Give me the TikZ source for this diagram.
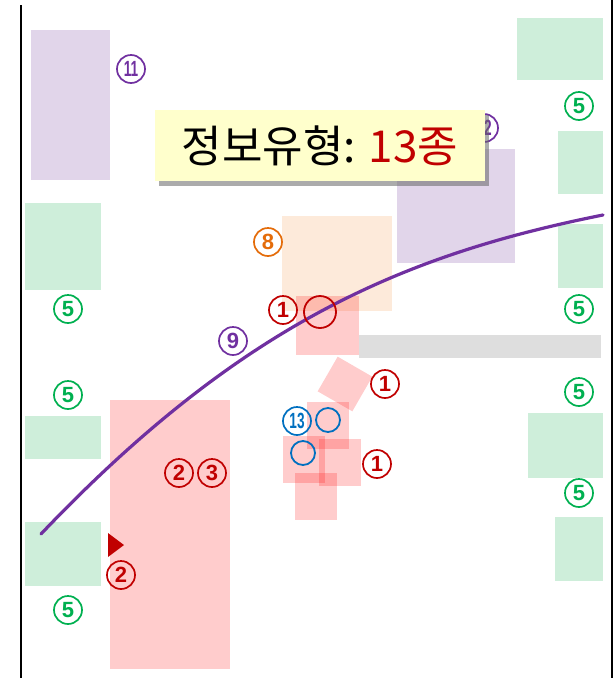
\documentclass[tikz,border=0pt]{standalone}
\usepackage{fontspec}
\usepackage{graphicx}
\setmainfont{Liberation Sans}
\newfontfamily\kr{Noto Sans CJK KR}
\usetikzlibrary{shadows}
\definecolor{cred}{RGB}{192,0,0}
\definecolor{cgreen}{RGB}{0,176,80}
\definecolor{cpurple}{RGB}{112,48,160}
\definecolor{corange}{RGB}{228,108,10}
\definecolor{cblue}{RGB}{0,112,192}
\definecolor{fgreen}{RGB}{206,238,218}
\definecolor{fpurple}{RGB}{225,213,234}
\definecolor{forange}{RGB}{253,234,218}
\definecolor{fgray}{RGB}{222,222,222}
\definecolor{fyellow}{RGB}{255,255,204}
\tikzset{
  num/.style={circle, draw=#1, text=#1, line width=1.7pt, minimum size=28pt, inner sep=0pt,
    font=\bfseries\fontsize{22}{22}\selectfont},
  greenbox/.style={fill=fgreen},
  purplebox/.style={fill=fpurple},
  orangebox/.style={fill=forange},
  graybox/.style={fill=fgray},
  pinkbox/.style={fill=red, fill opacity=0.2},
  ring/.style={circle, draw=#1, line width=1.8pt, inner sep=0pt},
  border/.style={line width=2.4pt, black},
  route/.style={line width=3.2pt, cpurple, line cap=round},
}
\begin{document}
\begin{tikzpicture}[x=1pt,y=-1pt]
\useasboundingbox (0,0) rectangle (615,678);
% frame lines
\draw[border] (21,5) -- (21,678);
\draw[border] (612,0) -- (612,678);
% purple areas
\fill[purplebox] (31,30) rectangle (110,180);
\fill[purplebox] (397,149) rectangle (515,263);
% green areas
\fill[greenbox] (517,18) rectangle (603,80);
\fill[greenbox] (558,131) rectangle (603,194);
\fill[greenbox] (558,224) rectangle (603,288);
\fill[greenbox] (25,203) rectangle (101,290);
\fill[greenbox] (25,416) rectangle (101,459);
\fill[greenbox] (25,522) rectangle (101,586);
\fill[greenbox] (528,413) rectangle (603,478);
\fill[greenbox] (555,517) rectangle (603,581);
% orange, gray
\fill[orangebox] (282,216) rectangle (392,311);
\fill[graybox] (359,335) rectangle (601,358);
% pink areas
\fill[pinkbox] (110,400) rectangle (230,669);
\fill[pinkbox] (296,296) rectangle (359,355);
\node[pinkbox, rotate=-30, minimum size=40pt, inner sep=0pt] (rot) at (345,384) {};
\fill[pinkbox] (307,402) rectangle (349,449);
\fill[pinkbox] (283,436) rectangle (325,483);
\fill[pinkbox] (319,439) rectangle (361,486);
\fill[pinkbox] (295,473) rectangle (337,520);
% triangle marker
\fill[cred] (108,533) -- (124,545) -- (108,557) -- cycle;
% route curve
\coordinate (rs) at (41,534);
\coordinate (re) at (603,215);
\draw[route] (rs) .. controls (241,324) and (403,255) .. (re);
% rings
\node[ring=cred, minimum size=32pt] (r1) at (320,312) {};
\node[ring=cblue, minimum size=24pt] (b1) at (328,420) {};
\node[ring=cblue, minimum size=24pt] (b2) at (303,453) {};
% labels
\node[num=cpurple] (n11) at (131,69) {\scalebox{0.62}[1]{11}};
\node[num=cpurple] (n12) at (484,128) {\scalebox{0.62}[1]{12}};
\node[num=cgreen] (g1) at (579,106) {5};
\node[num=cgreen] (g2) at (579,309) {5};
\node[num=cgreen] (g3) at (68,309) {5};
\node[num=cgreen] (g4) at (68,395) {5};
\node[num=cgreen] (g5) at (579,392) {5};
\node[num=cgreen] (g6) at (579,493) {5};
\node[num=cgreen] (g7) at (68,610) {5};
\node[num=corange] (n8) at (268,242) {8};
\node[num=cpurple] (n9) at (233,341) {9};
\node[num=cred] (a1) at (283,310) {1};
\node[num=cred] (a2) at (385,384) {1};
\node[num=cred] (a3) at (377,464) {1};
\node[num=cblue] (n13) at (297,421) {\scalebox{0.62}[1]{13}};
\node[num=cred] (c2) at (179,473) {2};
\node[num=cred] (c3) at (212,473) {3};
\node[num=cred] (d2) at (121,575) {2};
% title box
\node[fill=fyellow, minimum width=330pt, minimum height=71pt, inner sep=0pt,
  drop shadow={shadow xshift=4pt, shadow yshift=-5pt, opacity=0.55, fill=black!60},
  font=\kr\fontsize{44}{44}\selectfont] (title) at (320,145.5)
  {정보유형: \textcolor{cred}{13종}};
\end{tikzpicture}
\end{document}
